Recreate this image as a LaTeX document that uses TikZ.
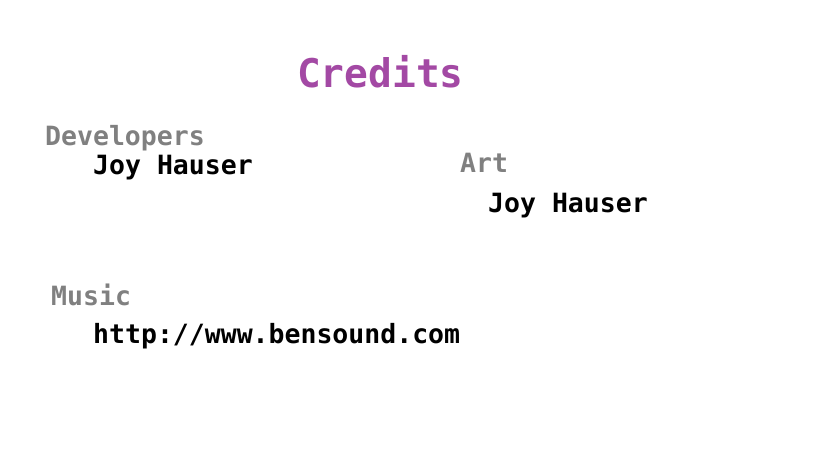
\documentclass[tikz,border=0pt]{standalone}
\usepackage{fontspec}
\setmonofont{DejaVu Sans Mono}
\definecolor{titlepurple}{RGB}{163,73,164}
\definecolor{headgray}{RGB}{128,128,128}
\tikzset{
  basetext/.style={anchor=base west,inner sep=0pt,font=\ttfamily\bfseries\fontsize{26.5}{28}\selectfont},
  headtext/.style={basetext,text=headgray},
  persontext/.style={basetext,text=black},
  titletext/.style={anchor=base west,inner sep=0pt,text=titlepurple,font=\ttfamily\bfseries\fontsize{39.5}{42}\selectfont}}
\begin{document}
\begin{tikzpicture}[x=1pt,y=-1pt]
\useasboundingbox[fill=white] (0,0) rectangle (819,460);
\node[titletext] (credits) at (297,88) {Credits};
\node[headtext] (dev) at (45,145) {Developers};
\node[persontext] (joy1) at (93,174) {Joy Hauser};
\node[headtext] (art) at (460,172) {Art};
\node[persontext] (joy2) at (488,212) {Joy Hauser};
\node[headtext] (music) at (51,305) {Music};
\node[persontext] (url) at (93,343) {http://www.bensound.com};
\end{tikzpicture}
\end{document}
